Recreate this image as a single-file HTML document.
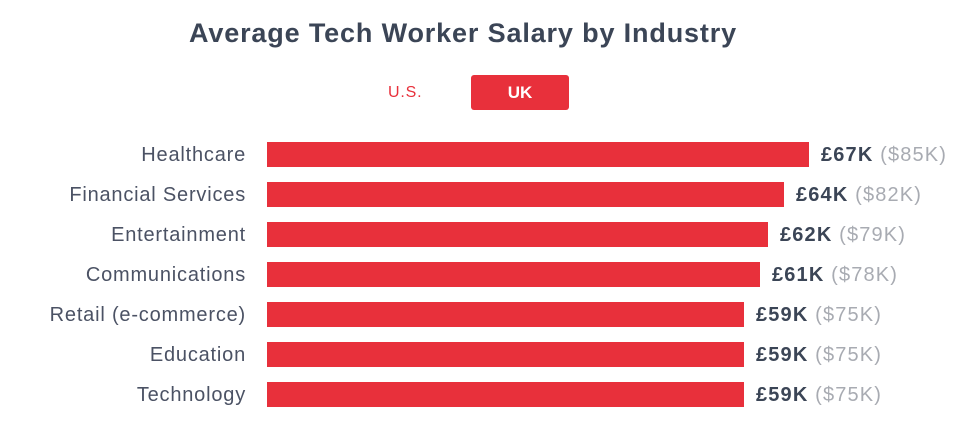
<!DOCTYPE html>
<html><head><meta charset="utf-8"><style>
body{margin:0;width:968px;height:427px;background:#fff;font-family:"Liberation Sans",sans-serif;position:relative;overflow:hidden}
.t{position:absolute;left:0;width:926px;text-align:center;top:18px;font-size:27px;font-weight:bold;color:#3b4556;letter-spacing:0.85px}
.us{position:absolute;left:388px;top:84px;font-size:16px;color:#e8303b;letter-spacing:0.8px}
.uk{position:absolute;left:471px;top:75px;width:98px;height:35px;background:#e8303b;border-radius:3px;color:#fff;font-weight:bold;font-size:17px;text-align:center;line-height:35px}
.lab{position:absolute;right:722px;width:300px;text-align:right;font-size:20px;color:#4b5264;line-height:25px;white-space:nowrap;letter-spacing:0.8px}
.bar{position:absolute;left:267px;height:25px;background:#e8303b}
.v{position:absolute;font-size:20px;line-height:25px;white-space:nowrap;color:#a8abb2;letter-spacing:1.15px}
.v b{color:#3b4556}
</style></head><body>
<div class="t">Average Tech Worker Salary by Industry</div>
<div class="us">U.S.</div>
<div class="uk">UK</div>
<div class="lab" style="top:143px">Healthcare</div><div class="bar" style="top:142px;width:542px"></div><div class="v" style="top:143px;left:821px"><b>£67K</b> ($85K)</div>
<div class="lab" style="top:183px">Financial Services</div><div class="bar" style="top:182px;width:517px"></div><div class="v" style="top:183px;left:796px"><b>£64K</b> ($82K)</div>
<div class="lab" style="top:223px">Entertainment</div><div class="bar" style="top:222px;width:501px"></div><div class="v" style="top:223px;left:780px"><b>£62K</b> ($79K)</div>
<div class="lab" style="top:263px">Communications</div><div class="bar" style="top:262px;width:493px"></div><div class="v" style="top:263px;left:772px"><b>£61K</b> ($78K)</div>
<div class="lab" style="top:303px">Retail (e-commerce)</div><div class="bar" style="top:302px;width:477px"></div><div class="v" style="top:303px;left:756px"><b>£59K</b> ($75K)</div>
<div class="lab" style="top:343px">Education</div><div class="bar" style="top:342px;width:477px"></div><div class="v" style="top:343px;left:756px"><b>£59K</b> ($75K)</div>
<div class="lab" style="top:383px">Technology</div><div class="bar" style="top:382px;width:477px"></div><div class="v" style="top:383px;left:756px"><b>£59K</b> ($75K)</div>
</body></html>
